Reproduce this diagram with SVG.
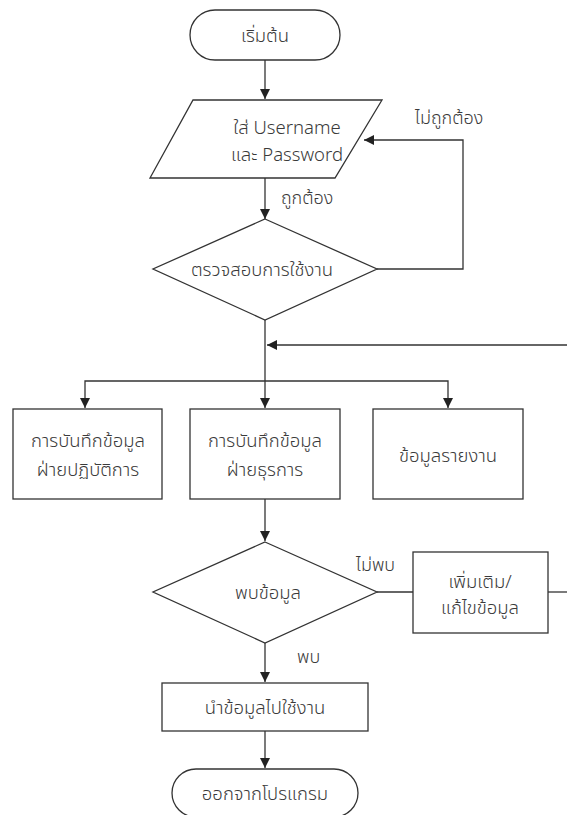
<svg xmlns="http://www.w3.org/2000/svg" width="567" height="815" viewBox="0 0 567 815">
  <style>
    .shape { fill: #ffffff; stroke: #333333; stroke-width: 1.3; }
    .line { fill: none; stroke: #333333; stroke-width: 1.3; }
    .txt { font-family: "Noto Sans Thai", "Noto Sans", "DejaVu Sans", sans-serif; font-size: 18.5px; font-weight: 300; fill: #3a3a3a; text-anchor: middle; }
    .lbl { font-family: "Noto Sans Thai", "Noto Sans", "DejaVu Sans", sans-serif; font-size: 18px; font-weight: 300; fill: #3a3a3a; }
  </style>
  <defs>
    <marker id="arrow" viewBox="0 0 10 10" refX="10" refY="5" markerWidth="10" markerHeight="10" markerUnits="userSpaceOnUse" orient="auto">
      <path d="M0,0 L10,5 L0,10 Z" fill="#222222"/>
    </marker>
  </defs>
  <rect width="567" height="815" fill="#ffffff"/>

  <!-- connectors -->
  <g id="connectors">
    <line class="line" x1="265" y1="60" x2="265" y2="99" marker-end="url(#arrow)"/>
    <line class="line" x1="265" y1="178" x2="265" y2="219" marker-end="url(#arrow)"/>
    <polyline class="line" points="377,269 463,269 463,140 364,140" marker-end="url(#arrow)"/>
    <line class="line" x1="265" y1="320" x2="265" y2="408" marker-end="url(#arrow)"/>
    <line class="line" x1="567" y1="345" x2="267" y2="345" marker-end="url(#arrow)"/>
    <polyline class="line" points="265,381 85,381 85,408" marker-end="url(#arrow)"/>
    <polyline class="line" points="265,381 448,381 448,408" marker-end="url(#arrow)"/>
    <line class="line" x1="265" y1="499" x2="265" y2="541" marker-end="url(#arrow)"/>
    <line class="line" x1="377" y1="592" x2="413" y2="592"/>
    <line class="line" x1="548" y1="592" x2="567" y2="592"/>
    <line class="line" x1="265" y1="643" x2="265" y2="682" marker-end="url(#arrow)"/>
    <line class="line" x1="265" y1="731" x2="265" y2="768" marker-end="url(#arrow)"/>
    <text class="lbl" x="281" y="204">ถูกต้อง</text>
    <text class="lbl" x="415" y="124">ไม่ถูกต้อง</text>
    <text class="lbl" x="356" y="571">ไม่พบ</text>
    <text class="lbl" x="297" y="663">พบ</text>
  </g>

  <!-- nodes -->
  <g id="start">
    <rect class="shape" x="190" y="10" width="150" height="50" rx="25" ry="25"/>
    <text class="txt" x="265" y="42">เริ่มต้น</text>
  </g>
  <g id="login">
    <polygon class="shape" points="193,100 382,100 335,178 150,178"/>
    <text class="txt" x="287" y="134">ใส่ Username</text>
    <text class="txt" x="287" y="161">และ Password</text>
  </g>
  <g id="check">
    <polygon class="shape" points="265,219 377,269 265,320 153,269"/>
    <text class="txt" x="262" y="276">ตรวจสอบการใช้งาน</text>
  </g>
  <g id="ops">
    <rect class="shape" x="13" y="409" width="149" height="90"/>
    <text class="txt" x="88" y="447">การบันทึกข้อมูล</text>
    <text class="txt" x="88" y="476">ฝ่ายปฏิบัติการ</text>
  </g>
  <g id="admin">
    <rect class="shape" x="190" y="409" width="150" height="90"/>
    <text class="txt" x="265" y="447">การบันทึกข้อมูล</text>
    <text class="txt" x="265" y="476">ฝ่ายธุรการ</text>
  </g>
  <g id="report">
    <rect class="shape" x="373" y="409" width="150" height="90"/>
    <text class="txt" x="448" y="462">ข้อมูลรายงาน</text>
  </g>
  <g id="found">
    <polygon class="shape" points="265,542 377,592 265,643 153,592"/>
    <text class="txt" x="268" y="599">พบข้อมูล</text>
  </g>
  <g id="edit">
    <rect class="shape" x="413" y="552" width="135" height="81"/>
    <text class="txt" x="480" y="588">เพิ่มเติม/</text>
    <text class="txt" x="480" y="614">แก้ไขข้อมูล</text>
  </g>
  <g id="use">
    <rect class="shape" x="162" y="683" width="206" height="48"/>
    <text class="txt" x="265" y="714">นำข้อมูลไปใช้งาน</text>
  </g>
  <g id="exit">
    <rect class="shape" x="172" y="769" width="186" height="48" rx="24" ry="24"/>
    <text class="txt" x="265" y="800">ออกจากโปรแกรม</text>
  </g>
</svg>
